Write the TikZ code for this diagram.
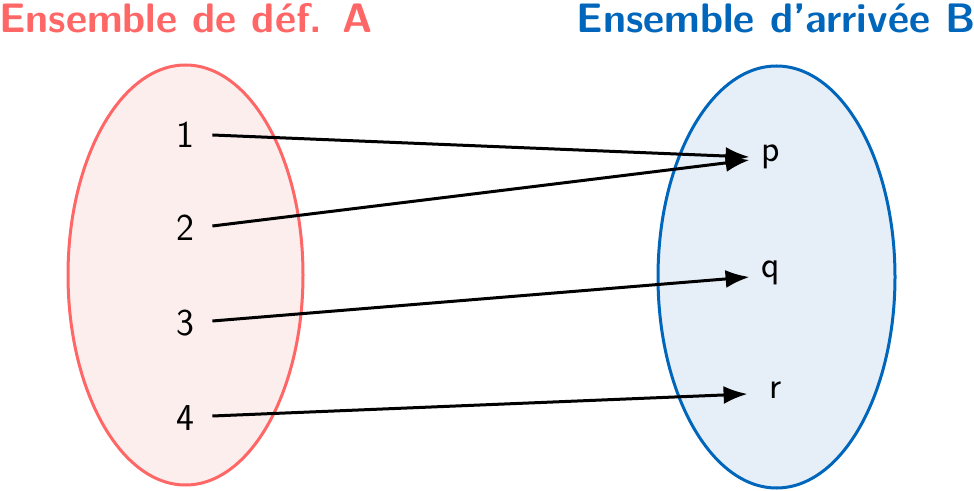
\documentclass[tikz,border=0pt]{standalone}
\usetikzlibrary{arrows.meta}
\definecolor{redA}{HTML}{FF6666}
\definecolor{redfill}{HTML}{FDEEEE}
\definecolor{blueB}{HTML}{0066BB}
\definecolor{bluefill}{HTML}{E6EFF8}
\begin{document}
\begin{tikzpicture}[x=0.5pt,y=-0.5pt,
  elem/.style={font=\sffamily\fontsize{19}{22}\selectfont, inner ysep=2pt, inner xsep=0pt, align=center},
  srcnode/.style={elem, minimum width=27pt},
  dstnode/.style={elem, minimum width=21pt},
  title/.style={font=\sffamily\bfseries\fontsize{20.6}{24}\selectfont, inner sep=0pt},
  arr/.style={-{Latex[length=12pt,width=9pt]}, line width=1.5pt}]
\useasboundingbox (0,0) rectangle (974,491);
\draw[redA, line width=1.5pt, fill=redfill] (185.5,275) ellipse [x radius=117.5, y radius=210];
\draw[blueB, line width=1.5pt, fill=bluefill] (776.5,277) ellipse [x radius=118.5, y radius=211];
\node[title, text=redA] (tA) at (186,18) {Ensemble de déf. A};
\node[title, text=blueB] (tB) at (776,18) {Ensemble d’arrivée B};
\node[srcnode] (n1) at (185,135) {1};
\node[srcnode] (n2) at (185,228) {2};
\node[srcnode] (n3) at (185,323) {3};
\node[srcnode] (n4) at (185,418) {4};
\node[dstnode] (p) at (771,157) {p};
\node[dstnode] (q) at (771,273) {q};
\node[dstnode, minimum width=28pt] (r) at (776,390) {r};
\draw[arr] (n1.east) -- (p.west);
\draw[arr] ([yshift=1pt]n2.east) -- ([yshift=-1.5pt]p.west);
\draw[arr] ([yshift=1pt]n3.east) -- ([yshift=-2pt]q.west);
\draw[arr] ([yshift=1pt]n4.east) -- ([yshift=-2pt]r.west);
\end{tikzpicture}
\end{document}
